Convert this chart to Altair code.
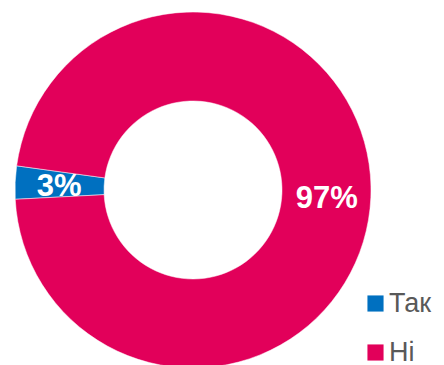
import altair as alt
import pandas as pd
import math

categories = ["Так", "Ні"]
values = [3, 97]
colors = ["#0070C0", "#E2005A"]

df = pd.DataFrame({
    "cat": categories,
    "val": values,
    "ord": list(range(len(categories))),
    "label": [f"{v}%" for v in values],
})

start = math.radians(267.0)
theta_scale = alt.Scale(domain=[0, 100], range=[start, start + 2 * math.pi])

base = alt.Chart(df).encode(
    theta=alt.Theta("val:Q", stack=True, scale=theta_scale),
    order=alt.Order("ord:Q"),
)

arcs = base.mark_arc(radius=178, radius2=89, stroke="white", strokeWidth=0.5).encode(
    x=alt.value(193),
    y=alt.value(190),
    color=alt.Color(
        "cat:N",
        scale=alt.Scale(domain=categories, range=colors),
        sort=categories,
        legend=alt.Legend(
            title=None,
            orient="none",
            legendX=362,
            legendY=290,
            padding=0,
            symbolType="square",
            symbolSize=260,
            symbolStrokeWidth=0,
            labelFontSize=27,
            labelFont="Liberation Sans",
            labelColor="#595959",
            labelOffset=0,
            rowPadding=21,
        ),
    ),
)

texts = base.mark_text(
    radius=134,
    font="Liberation Sans",
    fontSize=31,
    fontWeight="bold",
    color="white",
    dy=3,
).encode(
    x=alt.value(193),
    y=alt.value(190),
    text="label:N",
)

chart = alt.layer(arcs, texts).properties(
    width=444, height=365, autosize=alt.AutoSizeParams(type="none"), padding=0
).configure_view(stroke=None)

chart.save("out.html", embed_options={"renderer": "svg", "actions": False})
